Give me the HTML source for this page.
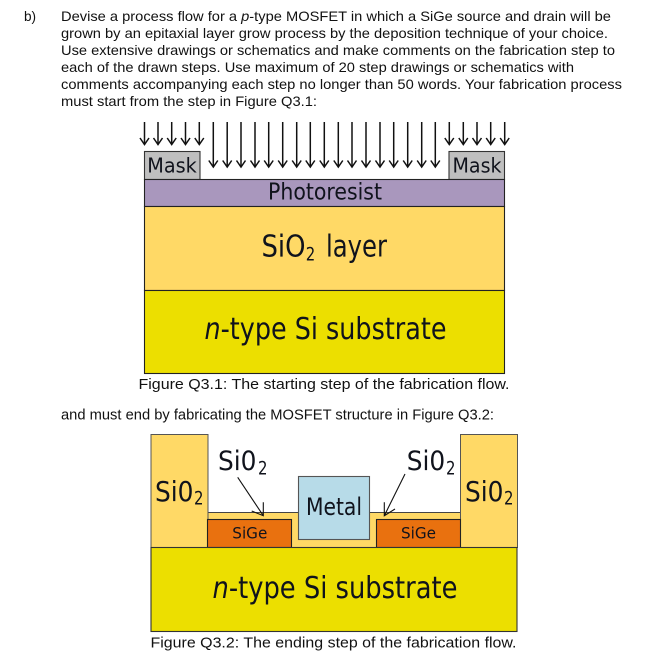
<!DOCTYPE html>
<html>
<head>
<meta charset="utf-8">
<style>
html,body{margin:0;padding:0;background:#fff;width:646px;height:663px;overflow:hidden}
svg{display:block}
.b{font-family:"Liberation Sans",Arial,sans-serif;font-size:13.6px;fill:#111}
.c{font-size:15px}
.f{font-family:"DejaVu Sans",sans-serif;fill:#10131c}
</style>
</head>
<body>
<svg width="646" height="663" viewBox="0 0 646 663" xmlns="http://www.w3.org/2000/svg">
<defs>
<g id="s"><line x1="0" y1="0" x2="0" y2="22" stroke="#111" stroke-width="1.5"/><path d="M-4.500 16 L0 22.500 L4.500 16" fill="none" stroke="#111" stroke-width="1.500"/></g>
<g id="l"><line x1="0" y1="0" x2="0" y2="44.500" stroke="#111" stroke-width="1.5"/><path d="M-4.500 38.500 L0 45 L4.500 38.500" fill="none" stroke="#111" stroke-width="1.500"/></g>
</defs>
<text class="b" x="24" y="21">b)</text>
<text class="b" x="61" y="21" textLength="550" lengthAdjust="spacingAndGlyphs">Devise a process flow for a <tspan font-style="italic">p</tspan>-type MOSFET in which a SiGe source and drain will be</text>
<text class="b" x="61" y="38" textLength="547" lengthAdjust="spacingAndGlyphs">grown by an epitaxial layer grow process by the deposition technique of your choice.</text>
<text class="b" x="61" y="55" textLength="554" lengthAdjust="spacingAndGlyphs">Use extensive drawings or schematics and make comments on the fabrication step to</text>
<text class="b" x="61" y="72" textLength="513" lengthAdjust="spacingAndGlyphs">each of the drawn steps. Use maximum of 20 step drawings or schematics with</text>
<text class="b" x="61" y="89" textLength="561" lengthAdjust="spacingAndGlyphs">comments accompanying each step no longer than 50 words. Your fabrication process</text>
<text class="b" x="61" y="106" textLength="256" lengthAdjust="spacingAndGlyphs">must start from the step in Figure Q3.1:</text>

<!-- Figure Q3.1 -->
<g>
<use href="#s" x="144.500" y="122"/><use href="#s" x="158" y="122"/><use href="#s" x="171.700" y="122"/><use href="#s" x="185.500" y="122"/><use href="#s" x="199.300" y="122"/>
<use href="#s" x="449.300" y="122"/><use href="#s" x="463.300" y="122"/><use href="#s" x="477" y="122"/><use href="#s" x="490.700" y="122"/><use href="#s" x="504.700" y="122"/>
<use href="#l" x="213.300" y="122"/><use href="#l" x="227.200" y="122"/><use href="#l" x="241" y="122"/><use href="#l" x="255" y="122"/><use href="#l" x="268.700" y="122"/><use href="#l" x="282.700" y="122"/><use href="#l" x="296.700" y="122"/><use href="#l" x="310.300" y="122"/><use href="#l" x="324.300" y="122"/><use href="#l" x="338.300" y="122"/><use href="#l" x="352" y="122"/><use href="#l" x="366" y="122"/><use href="#l" x="380" y="122"/><use href="#l" x="393.700" y="122"/><use href="#l" x="407.700" y="122"/><use href="#l" x="421.700" y="122"/><use href="#l" x="435.300" y="122"/>
</g>
<rect x="144.500" y="151.500" width="55.500" height="28" fill="#bfbfbf" stroke="#333" stroke-width="1.100"/>
<rect x="449" y="151.500" width="55.500" height="28" fill="#bfbfbf" stroke="#333" stroke-width="1.100"/>
<rect x="144.500" y="179.500" width="360" height="27" fill="#a997bd" stroke="#222" stroke-width="1.100"/>
<rect x="144.500" y="206.500" width="360" height="84" fill="#ffd966" stroke="#222" stroke-width="1.100"/>
<rect x="144.500" y="290.500" width="360" height="83" fill="#ecdf00" stroke="#222" stroke-width="1.100"/>
<text class="f" x="147.300" y="172.300" font-size="20" textLength="49.500" lengthAdjust="spacingAndGlyphs">Mask</text>
<text class="f" x="452.500" y="172.300" font-size="20" textLength="49" lengthAdjust="spacingAndGlyphs">Mask</text>
<text class="f" x="268" y="199.300" font-size="23" textLength="114" lengthAdjust="spacingAndGlyphs">Photoresist</text>
<text class="f" x="261.500" y="256.700" font-size="30" textLength="44" lengthAdjust="spacingAndGlyphs">SiO</text>
<text class="f" x="305.700" y="260.700" font-size="19" textLength="9.500" lengthAdjust="spacingAndGlyphs">2</text>
<text class="f" x="326" y="256.700" font-size="30" textLength="61" lengthAdjust="spacingAndGlyphs">layer</text>
<text class="f" x="204.500" y="339" font-size="30" textLength="242" lengthAdjust="spacingAndGlyphs"><tspan font-style="italic">n</tspan>-type Si substrate</text>
<text class="b c" x="138.500" y="389" textLength="371" lengthAdjust="spacingAndGlyphs">Figure Q3.1: The starting step of the fabrication flow.</text>
<text class="b" x="61" y="419.500" style="font-size:14.300px" textLength="433" lengthAdjust="spacingAndGlyphs">and must end by fabricating the MOSFET structure in Figure Q3.2:</text>

<!-- Figure Q3.2 -->
<rect x="207.500" y="512.500" width="253" height="35" fill="#ffd966" stroke="#444" stroke-width="1"/>
<rect x="151" y="434.500" width="57" height="113" fill="#ffd966" stroke="#555" stroke-width="1"/>
<rect x="460.500" y="434.500" width="57" height="113" fill="#ffd966" stroke="#555" stroke-width="1"/>
<rect x="207.500" y="519.500" width="84" height="28" fill="#e9710f" stroke="#222" stroke-width="1.100"/>
<rect x="376.500" y="519.500" width="84" height="28" fill="#e9710f" stroke="#222" stroke-width="1.100"/>
<rect x="298.500" y="476.500" width="71" height="63" fill="#b7dbe8" stroke="#555" stroke-width="1.100"/>
<rect x="151" y="547.500" width="366" height="84" fill="#ecdf00" stroke="#333" stroke-width="1.100"/>
<text class="f" x="155" y="501" font-size="28" textLength="38.500" lengthAdjust="spacingAndGlyphs">Si0</text>
<text class="f" x="194" y="504.300" font-size="19" textLength="9.500" lengthAdjust="spacingAndGlyphs">2</text>
<text class="f" x="465" y="501" font-size="28" textLength="38.500" lengthAdjust="spacingAndGlyphs">Si0</text>
<text class="f" x="504" y="504.300" font-size="19" textLength="9.500" lengthAdjust="spacingAndGlyphs">2</text>
<text class="f" x="218" y="470" font-size="27" textLength="38.500" lengthAdjust="spacingAndGlyphs">Si0</text>
<text class="f" x="258" y="474.300" font-size="19" textLength="9.500" lengthAdjust="spacingAndGlyphs">2</text>
<text class="f" x="406.700" y="470" font-size="27" textLength="38.500" lengthAdjust="spacingAndGlyphs">Si0</text>
<text class="f" x="446" y="474.300" font-size="19" textLength="9.500" lengthAdjust="spacingAndGlyphs">2</text>
<text class="f" x="306" y="515" font-size="24" textLength="56" lengthAdjust="spacingAndGlyphs">Metal</text>
<text class="f" x="232.300" y="538.300" font-size="16" textLength="35" lengthAdjust="spacingAndGlyphs">SiGe</text>
<text class="f" x="401" y="538.300" font-size="16" textLength="35" lengthAdjust="spacingAndGlyphs">SiGe</text>
<path d="M237.700 477.300 L263.300 515.700 M251.700 511 L263.300 515.700 L263.300 502.300" fill="none" stroke="#111" stroke-width="1.100"/>
<path d="M405 474 L384.300 515.700 M384.300 502.300 L384.300 515.700 L395 509" fill="none" stroke="#111" stroke-width="1.100"/>
<text class="f" x="212.500" y="598" font-size="30" textLength="245" lengthAdjust="spacingAndGlyphs"><tspan font-style="italic">n</tspan>-type Si substrate</text>
<text class="b c" x="150.500" y="647.700" textLength="366" lengthAdjust="spacingAndGlyphs">Figure Q3.2: The ending step of the fabrication flow.</text>
</svg>
</body>
</html>
